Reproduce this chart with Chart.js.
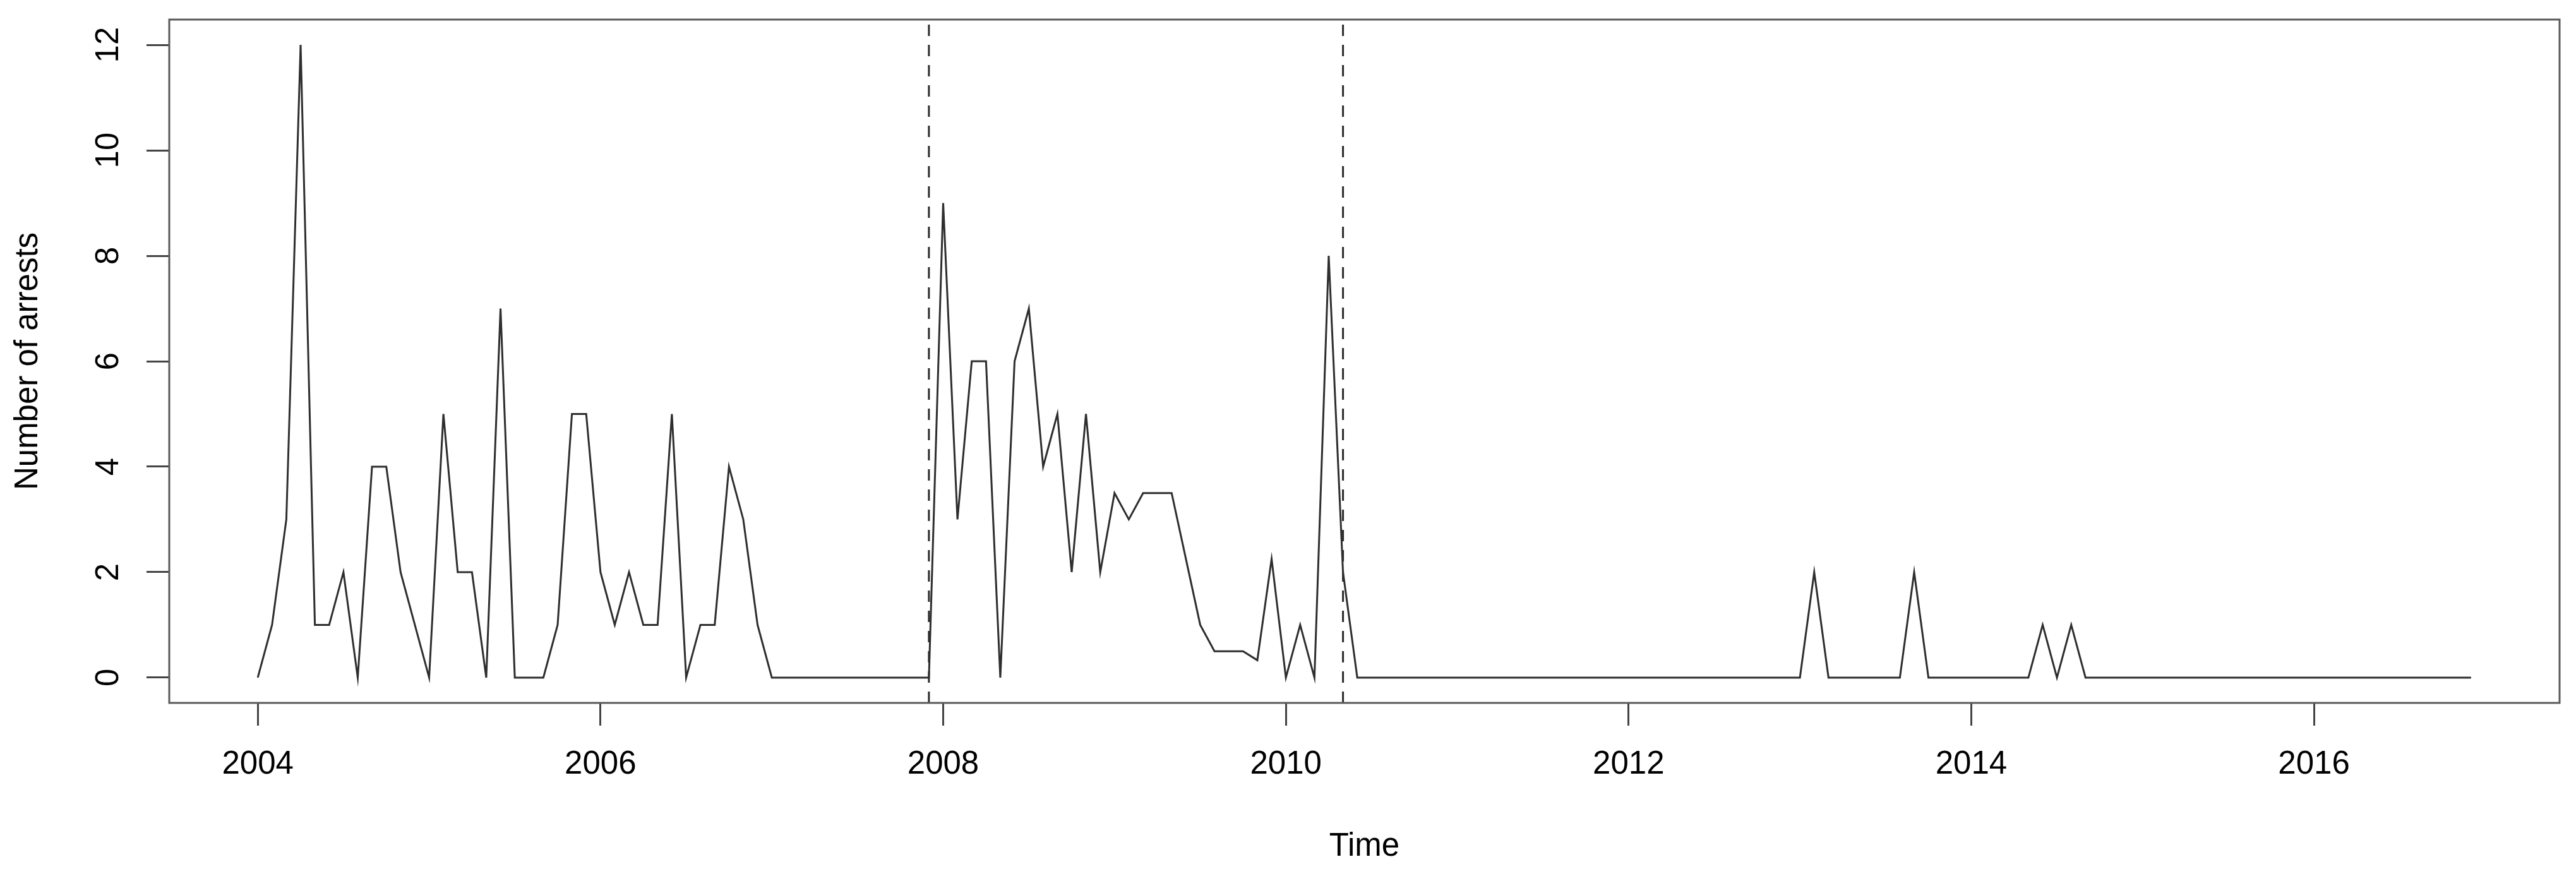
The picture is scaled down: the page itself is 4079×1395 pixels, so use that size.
<!DOCTYPE html>
<html>
<head>
<meta charset="utf-8">
<script src="https://cdn.jsdelivr.net/npm/chart.js@4.4.1/dist/chart.umd.min.js"></script>
<style>
  html, body { margin: 0; padding: 0; background: #ffffff; }
  #wrap { width: 4079px; height: 1395px; position: relative; }
  canvas { display: block; }
</style>
</head>
<body>
<div id="wrap"><canvas id="c" width="4079" height="1395"></canvas></div>
<script>
// ---- data (monthly series, Jan 2004 .. Dec 2016) ----
const startYear = 2004;
const arrests2004 = [0, 1, 3, 12, 1, 1, 2, 0, 4, 4, 2, 1];
const arrests2005 = [0, 5, 2, 2, 0, 7, 0, 0, 0, 1, 5, 5];
const arrests2006 = [2, 1, 2, 1, 1, 5, 0, 1, 1, 4, 3, 1];
const arrests2007 = [0, 0, 0, 0, 0, 0, 0, 0, 0, 0, 0, 0];
const arrests2008 = [9, 3, 6, 6, 0, 6, 7, 4, 5, 2, 5, 2];
const arrests2009 = [3.5, 3, 3.5, 3.5, 3.5, 2.25, 1, 0.5, 0.5, 0.5, 0.33, 2.25];
const arrests2010 = [0, 1, 0, 8, 2, 0, 0, 0, 0, 0, 0, 0];
const arrests2011 = [0, 0, 0, 0, 0, 0, 0, 0, 0, 0, 0, 0];
const arrests2012 = [0, 0, 0, 0, 0, 0, 0, 0, 0, 0, 0, 0];
const arrests2013 = [0, 2, 0, 0, 0, 0, 0, 0, 2, 0, 0, 0];
const arrests2014 = [0, 0, 0, 0, 0, 1, 0, 1, 0, 0, 0, 0];
const arrests2015 = [0, 0, 0, 0, 0, 0, 0, 0, 0, 0, 0, 0];
const arrests2016 = [0, 0, 0, 0, 0, 0, 0, 0, 0, 0, 0, 0];
const breakLines = [2007 + 11 / 12, 2010 + 4 / 12];   // dashed vertical lines (Dec 2007, May 2010)
const xTicks = [2004, 2006, 2008, 2010, 2012, 2014, 2016];
const yTicks = [0, 2, 4, 6, 8, 10, 12];
const xLabel = 'Time';
const yLabel = 'Number of arrests';

const values = [].concat(arrests2004, arrests2005, arrests2006, arrests2007, arrests2008,
  arrests2009, arrests2010, arrests2011, arrests2012, arrests2013, arrests2014,
  arrests2015, arrests2016);
const points = values.map((v, i) => ({ x: startYear + i / 12, y: v }));

const xFirst = startYear, xLast = startYear + (values.length - 1) / 12;
const xPad = (xLast - xFirst) * 0.04;
const xMin = xFirst - xPad, xMax = xLast + xPad;
const yMinData = 0, yMaxData = 12;
const yPad = (yMaxData - yMinData) * 0.04;
const yMin = yMinData - yPad, yMax = yMaxData + yPad;

const FONT = "'Liberation Sans', Arial, Helvetica, sans-serif";

const lineSets = breakLines.map(x => ({
  data: [{ x: x, y: yMin }, { x: x, y: yMax }],
  borderColor: '#2a2a2a',
  borderWidth: 3,
  borderDash: [18, 14],
  pointRadius: 0,
  fill: false
}));

const framePlugin = {
  id: 'frame',
  afterDraw(chart) {
    const a = chart.chartArea, ctx = chart.ctx;
    ctx.save();
    ctx.strokeStyle = '#5a5a5a';
    ctx.lineWidth = 3;
    ctx.strokeRect(a.left, a.top, a.right - a.left, a.bottom - a.top);
    ctx.restore();
  }
};

function noPad(s) {
  s.paddingTop = 0; s.paddingBottom = 0; s.paddingLeft = 0; s.paddingRight = 0;
}

new Chart(document.getElementById('c'), {
  type: 'line',
  data: {
    datasets: [{
      data: points,
      borderColor: '#2e2e2e',
      borderWidth: 3,
      pointRadius: 0,
      tension: 0,
      fill: false
    }].concat(lineSets)
  },
  options: {
    responsive: false,
    animation: false,
    devicePixelRatio: 1,
    layout: { padding: { top: 31, right: 26, left: 0, bottom: 0 } },
    plugins: { legend: { display: false }, tooltip: { enabled: false } },
    scales: {
      x: {
        type: 'linear',
        position: 'bottom',
        min: xMin,
        max: xMax,
        afterBuildTicks: s => { s.ticks = xTicks.map(v => ({ value: v })); },
        afterFit: s => { s.height = 282; noPad(s); },
        grid: { display: true, drawOnChartArea: false, drawTicks: true, tickLength: 36, color: '#444444', lineWidth: 3 },
        border: { display: false },
        ticks: {
          color: '#000000',
          font: { family: FONT, size: 51 },
          padding: 31,
          maxRotation: 0,
          minRotation: 0,
          autoSkip: false,
          callback: v => String(v)
        },
        title: {
          display: true,
          text: xLabel,
          color: '#000000',
          font: { family: FONT, size: 51 },
          padding: { top: 0, bottom: 23 }
        }
      },
      y: {
        type: 'linear',
        position: 'left',
        min: yMin,
        max: yMax,
        afterBuildTicks: s => { s.ticks = yTicks.map(v => ({ value: v })); },
        afterFit: s => { s.width = 268; noPad(s); },
        grid: { display: true, drawOnChartArea: false, drawTicks: true, tickLength: 36, color: '#444444', lineWidth: 3 },
        border: { display: false },
        ticks: {
          color: '#000000',
          font: { family: FONT, size: 51 },
          padding: 31,
          minRotation: 90,
          maxRotation: 90,
          crossAlign: 'center',
          autoSkip: false,
          callback: v => String(v)
        },
        title: {
          display: true,
          text: yLabel,
          color: '#000000',
          font: { family: FONT, size: 51 },
          padding: { top: 14, bottom: 0 }
        }
      }
    }
  },
  plugins: [framePlugin]
});
</script>
</body>
</html>
